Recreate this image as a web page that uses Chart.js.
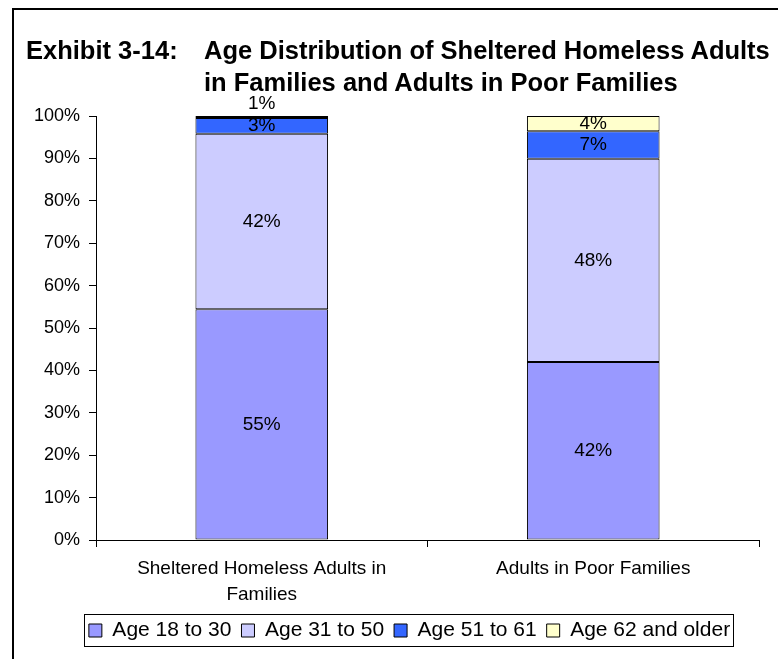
<!DOCTYPE html>
<html>
<head>
<meta charset="utf-8">
<script src="https://cdn.jsdelivr.net/npm/chart.js@4"></script>
<style>
  html, body { margin: 0; padding: 0; background: #fff; overflow: hidden; }
  #wrap { position: relative; width: 778px; height: 659px; }
  #frame { position: absolute; left: 12px; top: 8px; width: 800px; height: 700px;
    border-top: 2px solid #000; border-left: 2px solid #000; }
  .ttl { position: absolute; font-family: "Liberation Sans", Arial, sans-serif;
    font-weight: bold; font-size: 25.5px; color: #000; white-space: nowrap; line-height: 30px; }
  canvas { position: absolute; left: 0; top: 0; }
</style>
</head>
<body>
<div id="wrap">
  <canvas id="chart" width="778" height="659"></canvas>
  <div id="frame"></div>
  <div class="ttl" style="left:26px; top:35px;">Exhibit 3-14:</div>
  <div class="ttl" style="left:204px; top:35px;">Age Distribution of Sheltered Homeless Adults</div>
  <div class="ttl" style="left:204px; top:67px;">in Families and Adults in Poor Families</div>
</div>
<script>
  const categories = [['Sheltered Homeless Adults in', 'Families'], 'Adults in Poor Families'];
  const seriesNames = ['Age 18 to 30', 'Age 31 to 50', 'Age 51 to 61', 'Age 62 and older'];
  const age18to30 = [54.4, 42.0];
  const age31to50 = [41.4, 47.9];
  const age51to61 = [3.7, 6.5];
  const age62plus = [0.5, 3.6];
  const shown18to30 = ['55%', '42%'];
  const shown31to50 = ['42%', '48%'];
  const shown51to61 = ['3%', '7%'];
  const shown62plus = ['1%', '4%'];
  const yTicks = [0, 10, 20, 30, 40, 50, 60, 70, 80, 90, 100];

  const colors = ['#9999FF', '#CCCCFF', '#3366FF', '#FFFFCC'];
  const values = [age18to30, age31to50, age51to61, age62plus];
  const shown = [shown18to30, shown31to50, shown51to61, shown62plus];
  const font = '"Liberation Sans", Arial, sans-serif';

  // percentage labels inside each segment, tiny ones above the bar
  const segLabels = {
    id: 'segLabels',
    afterDatasetsDraw(chart) {
      const ctx = chart.ctx;
      ctx.save();
      ctx.font = '19px ' + font;
      ctx.fillStyle = '#000';
      ctx.textAlign = 'center';
      ctx.textBaseline = 'middle';
      chart.data.datasets.forEach((ds, i) => {
        chart.getDatasetMeta(i).data.forEach((bar, j) => {
          const p = bar.getProps(['x', 'y', 'base'], true);
          const y = ds.data[j] < 2 ? p.y - 12 : (p.y + p.base) / 2;
          ctx.fillText(shown[i][j], p.x, y);
        });
      });
      ctx.restore();
    }
  };

  // legend sits a bit right of the page centre, as in the original
  const legendShift = {
    id: 'legendShift',
    afterLayout(chart) {
      chart.legend.left = 60;
    }
  };

  // box round the legend
  const legendBox = {
    id: 'legendBox',
    afterDraw(chart) {
      const hb = chart.legend.legendHitBoxes;
      if (!hb || !hb.length) return;
      const left = Math.min(...hb.map(h => h.left)) - 5;
      const right = Math.max(...hb.map(h => h.left + h.width)) + 3;
      const top = hb[0].top - 6;
      const bottom = hb[0].top + hb[0].height + 5;
      const ctx = chart.ctx;
      ctx.save();
      ctx.strokeStyle = '#000';
      ctx.lineWidth = 1;
      ctx.strokeRect(Math.round(left) + 0.5, Math.round(top) + 0.5, Math.round(right - left), Math.round(bottom - top));
      ctx.restore();
    }
  };

  new Chart(document.getElementById('chart'), {
    type: 'bar',
    data: {
      labels: categories,
      datasets: seriesNames.map((name, i) => ({
        label: name,
        data: values[i],
        backgroundColor: colors[i],
        borderColor: '#000',
        borderWidth: 1,
        borderSkipped: false,
        barPercentage: 0.4,
        categoryPercentage: 1
      }))
    },
    options: {
      responsive: false,
      animation: false,
      layout: { padding: { left: 16, right: 19, top: 116, bottom: 8 } },
      plugins: {
        tooltip: { enabled: false },
        legend: {
          position: 'bottom',
          labels: {
            color: '#000',
            font: { family: font, size: 21 },
            boxWidth: 13,
            boxHeight: 13,
            padding: 10
          }
        }
      },
      scales: {
        x: {
          stacked: true,
          grid: { drawOnChartArea: false, color: '#000', tickLength: 7, tickColor: '#000' },
          border: { color: '#000', width: 1 },
          ticks: { color: '#000', font: { family: font, size: 19, lineHeight: 1.37 }, padding: 9, maxRotation: 0 },
          afterFit(scale) { scale.height = 70; }
        },
        y: {
          stacked: true,
          min: 0,
          max: 100,
          grid: { drawOnChartArea: false, color: '#000', tickLength: 7, tickColor: '#000' },
          border: { color: '#000', width: 1 },
          afterBuildTicks(scale) { scale.ticks = yTicks.map(v => ({ value: v })); },
          ticks: { color: '#000', font: { family: font, size: 18 }, padding: 9, callback: v => v + '%' },
          afterFit(scale) { scale.width = 80; }
        }
      }
    },
    plugins: [legendShift, segLabels, legendBox]
  });
</script>
</body>
</html>
